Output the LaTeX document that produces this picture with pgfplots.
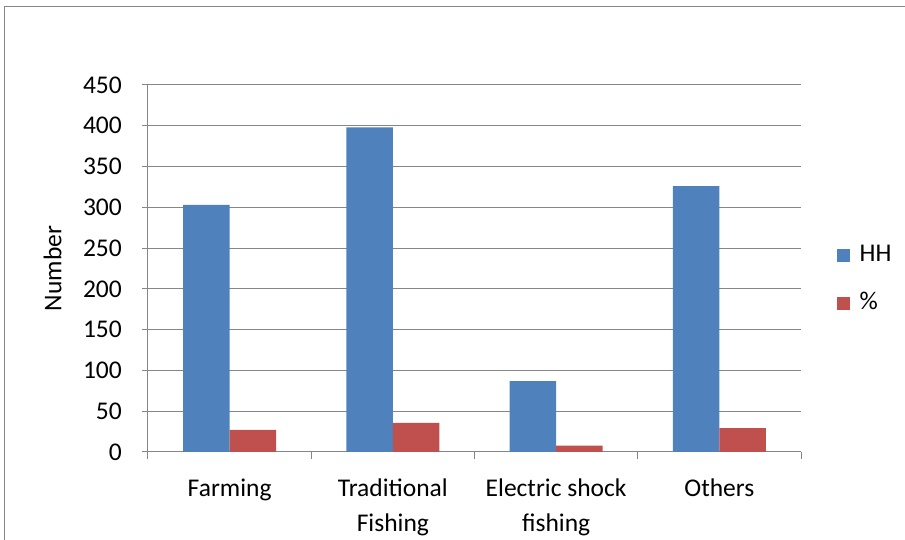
\documentclass[border=0pt]{standalone}
\usepackage{fontspec}
\setmainfont{Carlito}
\usepackage{pgfplots}
\pgfplotsset{compat=1.18}
\definecolor{hhblue}{RGB}{79,129,189}
\definecolor{pctred}{RGB}{192,80,77}
\definecolor{gridgray}{RGB}{134,134,134}
\newcommand{\chartfont}{\fontsize{25.5}{35}\selectfont}
\begin{document}
\begin{tikzpicture}[x=1pt,y=1pt]
\useasboundingbox (0,0) rectangle (905,540);
% chart area frame
\draw[gridgray, line width=1pt] (4,-10) rectangle (915,533);
\begin{axis}[
  at={(148pt,88pt)}, anchor=south west,
  width=653pt, height=367pt, scale only axis,
  ybar=0pt, bar width=46.5pt,
  xmin=-0.5, xmax=3.5, ymin=0, ymax=450,
  enlargelimits=false,
  axis x line*=bottom, axis y line*=left,
  axis line style={gridgray, line width=1pt, -},
  tick align=outside,
  ytick={0,50,...,450},
  ymajorgrids, grid style={gridgray, line width=1pt},
  major tick length=6pt,
  minor tick length=7pt,
  tick style={gridgray, line width=1pt},
  xtick={0,1,2,3},
  xticklabels={{\strut Farming}, {\strut Traditional\\Fishing}, {\strut Electric shock\\fishing}, {\strut Others}},
  major x tick style={draw=none},
  minor xtick={-0.5,0.5,1.5,2.5,3.5},
  /pgf/number format/assume math mode=true,
  ticklabel style={font=\chartfont, text=black},
  yticklabel style={anchor=east, inner sep=0pt, xshift=-20pt},
  xticklabel style={align=center, anchor=north, inner sep=0pt, yshift=-14.2pt},
  ylabel={Number},
  every axis y label/.style={at={(axis description cs:-0.1328,0.5)}, rotate=90, anchor=base, font=\chartfont},
  legend style={at={(axis description cs:1.0547,0.475)}, anchor=west, draw=none, fill=none,
    inner sep=0pt, outer sep=0pt, row sep=32pt, column sep=10pt, font=\chartfont,
    nodes={inner sep=0pt, text height=16pt, text depth=0pt}},
  legend cell align=left,
  legend image code/.code={\path[#1, draw=none] (0pt,-8.5pt) rectangle (13pt,4.5pt);},
]
\addplot[fill=hhblue, draw=none] coordinates {(0,303) (1,398) (2,87) (3,326)};
\addplot[fill=pctred, draw=none] coordinates {(0,27.2) (1,35.7) (2,7.8) (3,29.3)};
\legend{HH, \%}
\end{axis}
\end{tikzpicture}
\end{document}
